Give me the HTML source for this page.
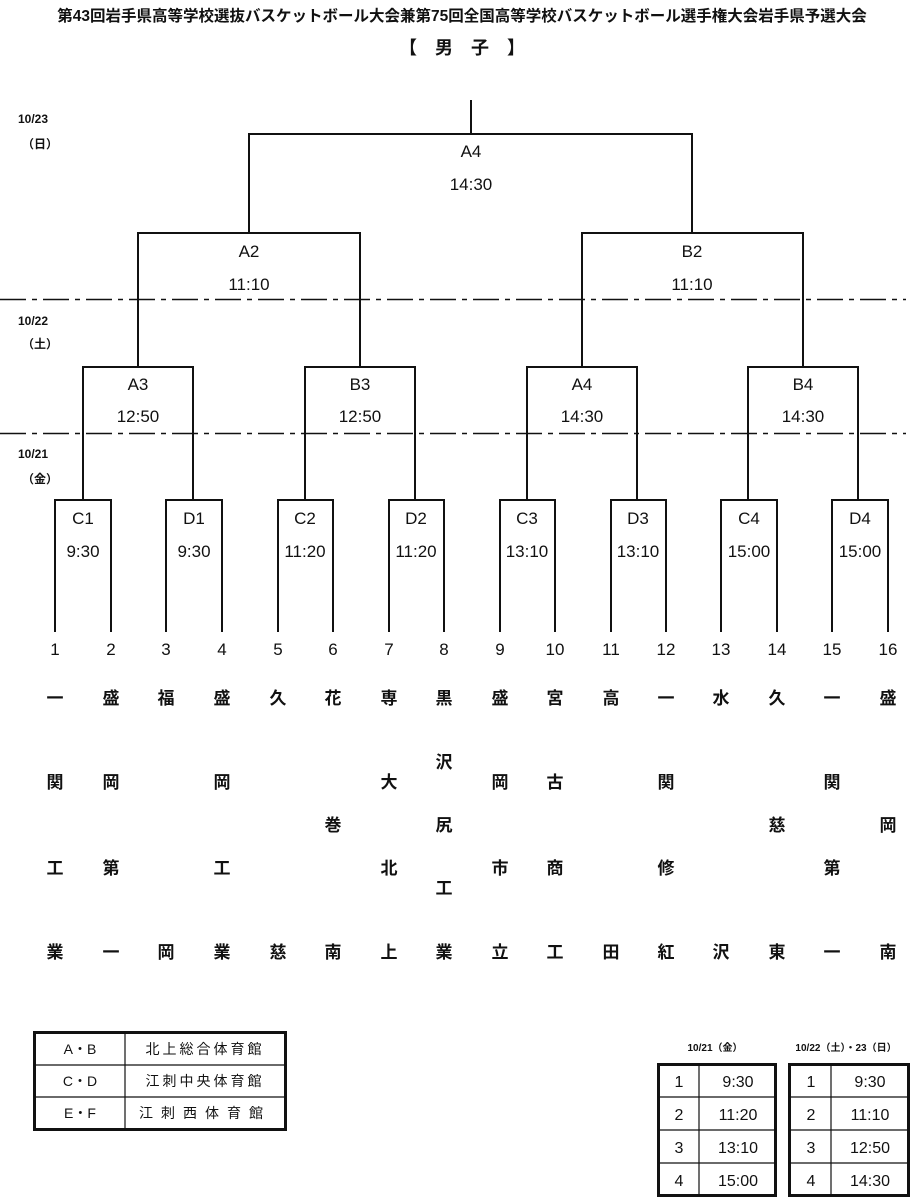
<!DOCTYPE html>
<html><head><meta charset="utf-8"><style>
html,body{margin:0;padding:0;background:#fff}
svg{display:block}
text{font-family:"Liberation Sans","Noto Sans CJK JP",sans-serif;fill:#111}
</style></head><body>
<svg width="921" height="1200" viewBox="0 0 921 1200" xmlns="http://www.w3.org/2000/svg">
<text x="462" y="21" text-anchor="middle" font-size="15.5" font-weight="bold">第43回岩手県高等学校選抜バスケットボール大会兼第75回全国高等学校バスケットボール選手権大会岩手県予選大会</text>
<text x="462" y="54" text-anchor="middle" font-size="18" font-weight="bold">【　男　子　】</text>

<g font-size="12" font-weight="bold">
<text x="18" y="123">10/23</text><text x="22" y="148">（日）</text>
<text x="18" y="325">10/22</text><text x="22" y="348">（土）</text>
<text x="18" y="458">10/21</text><text x="22" y="483">（金）</text>
</g>

<g stroke="#111" stroke-width="1.5" stroke-dasharray="26,6,5,6" fill="none">
<line x1="0" y1="299.5" x2="906" y2="299.5"/>
<line x1="0" y1="433.5" x2="906" y2="433.5"/>
</g>

<g stroke="#111" stroke-width="2" fill="none">
<path d="M471 100V134M249 233V134H692V233"/>
<path d="M138 367V233H360V367M582 367V233H803V367"/>
<path d="M55 632V500H111V632M83 500V367H193V500M166 632V500H222V632"/>
<path d="M278 632V500H333V632M305 500V367H415V500M389 632V500H444V632"/>
<path d="M500 632V500H555V632M527 500V367H637V500M611 632V500H666V632"/>
<path d="M721 632V500H777V632M748 500V367H858V500M832 632V500H888V632"/>
</g>

<g font-size="17" text-anchor="middle">
<text x="471" y="157">A4</text><text x="471" y="190">14:30</text>
<text x="249" y="257">A2</text><text x="249" y="290">11:10</text>
<text x="692" y="257">B2</text><text x="692" y="290">11:10</text>
<text x="138" y="390">A3</text><text x="138" y="422">12:50</text>
<text x="360" y="390">B3</text><text x="360" y="422">12:50</text>
<text x="582" y="390">A4</text><text x="582" y="422">14:30</text>
<text x="803" y="390">B4</text><text x="803" y="422">14:30</text>
<text x="83" y="524">C1</text><text x="83" y="557">9:30</text>
<text x="194" y="524">D1</text><text x="194" y="557">9:30</text>
<text x="305" y="524">C2</text><text x="305" y="557">11:20</text>
<text x="416" y="524">D2</text><text x="416" y="557">11:20</text>
<text x="527" y="524">C3</text><text x="527" y="557">13:10</text>
<text x="638" y="524">D3</text><text x="638" y="557">13:10</text>
<text x="749" y="524">C4</text><text x="749" y="557">15:00</text>
<text x="860" y="524">D4</text><text x="860" y="557">15:00</text>
<text x="55" y="655">1</text><text x="111" y="655">2</text><text x="166" y="655">3</text><text x="222" y="655">4</text>
<text x="278" y="655">5</text><text x="333" y="655">6</text><text x="389" y="655">7</text><text x="444" y="655">8</text>
<text x="500" y="655">9</text><text x="555" y="655">10</text><text x="611" y="655">11</text><text x="666" y="655">12</text>
<text x="721" y="655">13</text><text x="777" y="655">14</text><text x="832" y="655">15</text><text x="888" y="655">16</text>
</g>

<g font-size="17" font-weight="bold" text-anchor="middle">
<text x="55" y="704">一</text><text x="55" y="788">関</text><text x="55" y="874">工</text><text x="55" y="958">業</text>
<text x="111" y="704">盛</text><text x="111" y="788">岡</text><text x="111" y="874">第</text><text x="111" y="958">一</text>
<text x="166" y="704">福</text><text x="166" y="958">岡</text>
<text x="222" y="704">盛</text><text x="222" y="788">岡</text><text x="222" y="874">工</text><text x="222" y="958">業</text>
<text x="278" y="704">久</text><text x="278" y="958">慈</text>
<text x="333" y="704">花</text><text x="333" y="831">巻</text><text x="333" y="958">南</text>
<text x="389" y="704">専</text><text x="389" y="788">大</text><text x="389" y="874">北</text><text x="389" y="958">上</text>
<text x="444" y="704">黒</text><text x="444" y="768">沢</text><text x="444" y="831">尻</text><text x="444" y="894">工</text><text x="444" y="958">業</text>
<text x="500" y="704">盛</text><text x="500" y="788">岡</text><text x="500" y="874">市</text><text x="500" y="958">立</text>
<text x="555" y="704">宮</text><text x="555" y="788">古</text><text x="555" y="874">商</text><text x="555" y="958">工</text>
<text x="611" y="704">高</text><text x="611" y="958">田</text>
<text x="666" y="704">一</text><text x="666" y="788">関</text><text x="666" y="874">修</text><text x="666" y="958">紅</text>
<text x="721" y="704">水</text><text x="721" y="958">沢</text>
<text x="777" y="704">久</text><text x="777" y="831">慈</text><text x="777" y="958">東</text>
<text x="832" y="704">一</text><text x="832" y="788">関</text><text x="832" y="874">第</text><text x="832" y="958">一</text>
<text x="888" y="704">盛</text><text x="888" y="831">岡</text><text x="888" y="958">南</text>
</g>

<!-- legend -->
<g stroke="#111" fill="none">
<rect x="34.5" y="1032.5" width="251" height="97" stroke-width="3"/>
<path d="M125 1032V1130M34 1065H286M34 1097H286" stroke-width="1.2"/>
</g>
<g font-size="14" text-anchor="middle">
<text x="80" y="1054">A・B</text><text x="80" y="1086">C・D</text><text x="80" y="1118">E・F</text>
<text x="205" y="1054" letter-spacing="3">北上総合体育館</text>
<text x="205" y="1086" letter-spacing="3">江刺中央体育館</text>
<text x="205" y="1118" letter-spacing="8">江刺西体育館</text>
</g>

<!-- time tables -->
<g font-size="10" font-weight="bold" text-anchor="middle">
<text x="715" y="1051">10/21（金）</text>
<text x="846" y="1051">10/22（土）・23（日）</text>
</g>
<g stroke="#111" fill="none">
<rect x="658.5" y="1064.5" width="117" height="131" stroke-width="3"/>
<path d="M699 1064V1196M658 1097H776M658 1130H776M658 1163H776" stroke-width="1.2"/>
<rect x="789.5" y="1064.5" width="119" height="131" stroke-width="3"/>
<path d="M831 1064V1196M789 1097H909M789 1130H909M789 1163H909" stroke-width="1.2"/>
</g>
<g font-size="16" text-anchor="middle">
<text x="679" y="1087">1</text><text x="679" y="1120">2</text><text x="679" y="1153">3</text><text x="679" y="1186">4</text>
<text x="738" y="1087">9:30</text><text x="738" y="1120">11:20</text><text x="738" y="1153">13:10</text><text x="738" y="1186">15:00</text>
<text x="811" y="1087">1</text><text x="811" y="1120">2</text><text x="811" y="1153">3</text><text x="811" y="1186">4</text>
<text x="870" y="1087">9:30</text><text x="870" y="1120">11:10</text><text x="870" y="1153">12:50</text><text x="870" y="1186">14:30</text>
</g>
</svg>
</body></html>
